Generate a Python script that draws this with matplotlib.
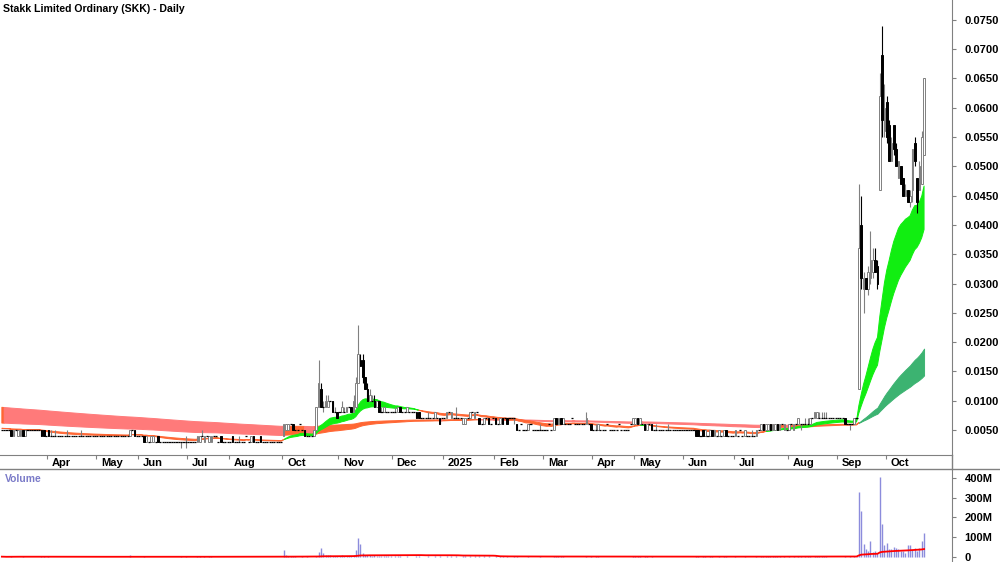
import numpy as np
import pandas as pd
import matplotlib.pyplot as plt
from matplotlib.lines import Line2D
from matplotlib import transforms

plt.rcParams['font.family'] = ['Liberation Sans', 'DejaVu Sans']

title = "Stakk Limited Ordinary (SKK) - Daily"

# trading bars per month, Mar 2024 .. Oct 2025 (no trading in Sep 2024)
month_labels = ['', 'Apr', 'May', 'Jun', 'Jul', 'Aug', 'Oct', 'Nov', 'Dec', '2025',
                'Feb', 'Mar', 'Apr', 'May', 'Jun', 'Jul', 'Aug', 'Sep', 'Oct']
month_bars = [20, 21, 18, 21, 18, 23, 24, 23, 22, 22, 21, 21, 18, 21, 22, 23, 21, 21, 17]

# prices in tenths of a cent (0.001)
opens = [
    5, 5, 5, 5, 5, 4, 5, 4, 4, 5, 4, 5, 5, 5, 5, 5, 5, 5, 5, 4,               # Mar 24
    5, 4, 4, 4, 4, 4, 4, 4, 4, 4, 4, 4, 4, 4, 4, 4, 4, 4, 4, 4, 4,            # Apr
    4, 4, 4, 4, 4, 4, 4, 4, 4, 4, 4, 4, 4, 4, 4, 5, 5, 4,                     # May
    4, 4, 4, 3, 3, 3, 3, 3, 4, 3, 3, 3, 3, 3, 3, 3, 3, 3, 3, 3, 3,            # Jun
    3, 3, 3, 3, 3, 3, 4, 3, 4, 3, 3, 4, 4, 3, 4, 3, 3, 3,                     # Jul
    3, 4, 3, 3, 3, 3, 3, 4, 3, 3, 4, 3, 3, 4, 3, 3, 3, 3, 3, 3, 3, 3, 3,      # Aug
    4, 5, 5, 6, 6, 5, 5, 6, 5, 5, 4, 4, 4, 4, 5, 9, 12, 9, 9, 9, 10, 10, 8, 8,  # Oct
    8, 8, 8, 8, 9, 9, 8, 9, 13, 17, 17, 14, 12, 10, 10, 10, 9, 10, 8, 8, 8, 8, 8,  # Nov
    8, 8, 8, 9, 8, 8, 8, 8, 8, 8, 8, 8, 7, 7, 7, 7, 7, 7, 7, 7, 7, 7,         # Dec
    7, 7, 8, 7, 7, 7, 7, 7, 6, 6, 7, 7, 8, 7, 8, 7, 6, 6, 7, 7, 6, 7,         # Jan 25
    7, 6, 6, 7, 7, 7, 7, 7, 7, 6, 5, 6, 5, 5, 5, 6, 5, 5, 5, 5, 5,            # Feb
    5, 5, 6, 5, 5, 7, 6, 7, 6, 6, 6, 6, 7, 6, 6, 6, 6, 6, 6, 6, 6,            # Mar
    5, 5, 5, 5, 5, 5, 6, 5, 5, 5, 5, 6, 5, 5, 5, 5, 6, 6,                     # Apr
    6, 7, 6, 6, 6, 5, 6, 6, 5, 5, 5, 5, 5, 5, 5, 5, 5, 5, 5, 5, 5,            # May
    5, 5, 5, 5, 5, 5, 5, 4, 5, 4, 4, 4, 5, 4, 4, 4, 4, 4, 5, 4, 4, 4,         # Jun
    4, 4, 5, 4, 4, 4, 4, 4, 4, 4, 5, 5, 6, 5, 5, 6, 5, 5, 6, 5, 6, 5, 5,      # Jul
    5, 6, 5, 6, 6, 6, 6, 6, 6, 6, 7, 7, 7, 7, 7, 7, 7, 7, 7, 7, 7,            # Aug
    7, 7, 7, 7, 6, 6, 6, 6, 7, 12, 40, 29, 31, 29, 31, 32, 34, 33, 46, 69, 56,  # Sep
    61, 57, 51, 57, 53, 48, 50, 48, 45, 46, 44, 46, 54, 48, 46, 47, 52,       # Oct
]
highs = [
    5, 5, 5, 5, 5, 5, 5, 5, 5, 5, 5, 5, 5, 5, 5, 5, 5, 5, 5, 4,
    5, 5, 4, 5, 4, 4, 4, 4, 5, 4, 4, 4, 4, 4, 5, 4, 4, 4, 4, 4, 4,
    4, 4, 4, 4, 4, 4, 4, 4, 4, 4, 4, 4, 4, 4, 5, 5, 5, 4,
    4, 4, 4, 4, 3, 4, 4, 3, 4, 3, 3, 3, 3, 3, 3, 3, 3, 3, 3, 3, 4,
    3, 3, 3, 3, 4, 4, 5, 4, 4, 4, 4, 4, 4, 3, 4, 3, 3, 3,
    3, 4, 3, 3, 4, 3, 3, 4, 3, 4, 4, 3, 3, 4, 3, 3, 3, 3, 3, 3, 3, 3, 3,
    6, 6, 6, 6, 6, 5, 5, 6, 5, 5, 4, 4, 4, 5, 9, 17, 13, 10, 11, 11, 10, 10, 9, 8,
    8, 10, 9, 9, 9, 9, 11, 14, 23, 18, 18, 14, 13, 12, 11, 11, 10, 10, 9, 9, 8, 8, 8,
    8, 9, 9, 9, 8, 8, 9, 8, 8, 8, 8, 8, 7, 7, 7, 8, 7, 7, 8, 7, 7, 7,
    7, 8, 8, 8, 7, 9, 7, 7, 7, 7, 7, 8, 8, 8, 8, 7, 6, 7, 7, 7, 6, 7,
    7, 6, 7, 7, 7, 7, 7, 7, 7, 6, 5, 6, 5, 5, 6, 6, 5, 5, 5, 6, 5,
    5, 5, 6, 5, 7, 7, 7, 7, 7, 6, 6, 6, 7, 6, 6, 6, 6, 6, 8, 6, 6,
    5, 6, 6, 5, 5, 5, 6, 5, 5, 5, 5, 6, 5, 5, 5, 5, 6, 7,
    7, 7, 7, 6, 6, 6, 6, 6, 5, 6, 5, 5, 5, 5, 6, 5, 5, 5, 5, 5, 5,
    5, 5, 5, 5, 5, 5, 5, 4, 5, 5, 4, 5, 5, 5, 4, 5, 4, 5, 5, 4, 4, 4,
    5, 4, 5, 4, 5, 4, 4, 5, 4, 5, 5, 6, 6, 6, 6, 6, 6, 6, 6, 6, 6, 6, 5,
    6, 6, 6, 6, 7, 6, 6, 7, 7, 7, 7, 8, 8, 8, 8, 8, 8, 7, 7, 7, 7,
    7, 7, 7, 7, 6, 6, 6, 7, 7, 47, 45, 32, 31, 33, 39, 36, 36, 34, 66, 74, 64,
    62, 58, 55, 57, 54, 51, 50, 48, 47, 46, 46, 53, 55, 48, 51, 56, 65,
]
lows = [
    5, 5, 5, 5, 4, 4, 5, 4, 4, 4, 4, 5, 5, 5, 5, 5, 5, 4, 4, 4,
    4, 4, 4, 4, 4, 4, 4, 4, 4, 4, 4, 4, 4, 4, 4, 4, 4, 4, 4, 4, 4,
    4, 4, 4, 4, 4, 4, 4, 4, 4, 4, 4, 4, 4, 4, 4, 5, 4, 4,
    4, 4, 3, 3, 3, 3, 3, 3, 3, 3, 3, 3, 3, 3, 3, 3, 3, 3, 2, 3, 2,
    3, 3, 3, 3, 3, 3, 4, 3, 4, 3, 3, 4, 4, 3, 3, 3, 3, 3,
    3, 3, 3, 3, 3, 3, 3, 4, 3, 3, 3, 3, 3, 3, 3, 3, 3, 3, 3, 3, 3, 3, 3,
    4, 5, 5, 6, 5, 5, 5, 6, 5, 4, 4, 4, 4, 4, 5, 9, 9, 8, 9, 9, 10, 8, 8, 7,
    8, 8, 8, 8, 9, 8, 8, 9, 13, 16, 13, 12, 10, 10, 10, 9, 9, 8, 8, 8, 8, 8, 8,
    8, 8, 8, 8, 8, 8, 8, 8, 8, 8, 7, 7, 7, 7, 7, 7, 7, 7, 7, 7, 6, 7,
    7, 7, 8, 7, 7, 7, 7, 7, 6, 6, 7, 7, 8, 7, 8, 6, 6, 6, 7, 6, 6, 7,
    6, 6, 6, 6, 7, 6, 7, 7, 6, 5, 5, 6, 5, 5, 5, 6, 5, 5, 5, 5, 5,
    5, 5, 6, 5, 5, 6, 6, 6, 6, 6, 6, 6, 7, 6, 6, 6, 6, 6, 6, 6, 5,
    5, 5, 5, 5, 5, 5, 6, 5, 5, 5, 5, 6, 5, 5, 5, 5, 6, 6,
    6, 6, 6, 6, 5, 5, 6, 5, 5, 5, 5, 5, 5, 5, 5, 5, 5, 5, 5, 5, 5,
    5, 5, 5, 5, 5, 4, 4, 4, 4, 4, 4, 4, 4, 4, 4, 4, 4, 4, 4, 4, 4, 4,
    4, 4, 5, 4, 4, 4, 4, 4, 4, 4, 5, 5, 5, 5, 5, 5, 5, 5, 5, 5, 6, 5, 5,
    5, 6, 5, 6, 6, 5, 6, 6, 6, 6, 7, 7, 7, 7, 7, 7, 7, 7, 7, 7, 7,
    7, 7, 7, 6, 6, 5, 6, 6, 7, 12, 29, 25, 29, 28, 30, 31, 32, 29, 46, 55, 55,
    54, 51, 51, 52, 50, 48, 47, 45, 45, 44, 43, 44, 50, 42, 46, 47, 52,
]
closes = [
    5, 5, 5, 5, 4, 5, 5, 5, 5, 4, 5, 5, 5, 5, 5, 5, 5, 4, 4, 4,
    4, 4, 4, 4, 4, 4, 4, 4, 4, 4, 4, 4, 4, 4, 4, 4, 4, 4, 4, 4, 4,
    4, 4, 4, 4, 4, 4, 4, 4, 4, 4, 4, 4, 4, 4, 5, 5, 4, 4,
    4, 4, 3, 4, 3, 4, 4, 3, 3, 3, 3, 3, 3, 3, 3, 3, 3, 3, 3, 3, 3,
    3, 3, 3, 3, 4, 4, 4, 4, 4, 4, 4, 4, 4, 3, 3, 3, 3, 3,
    3, 3, 3, 3, 3, 3, 3, 4, 3, 4, 3, 3, 3, 3, 3, 3, 3, 3, 3, 3, 3, 3, 3,
    6, 6, 6, 6, 5, 5, 5, 6, 5, 4, 4, 4, 4, 5, 9, 13, 9, 9, 10, 10, 10, 8, 8, 7,
    8, 9, 8, 9, 9, 8, 10, 13, 18, 16, 14, 12, 10, 11, 10, 9, 10, 8, 8, 9, 8, 8, 8,
    8, 8, 9, 8, 8, 8, 9, 8, 8, 8, 7, 7, 7, 7, 7, 7, 7, 7, 8, 7, 6, 7,
    7, 8, 8, 8, 7, 7, 7, 7, 7, 7, 7, 8, 8, 8, 8, 6, 6, 7, 7, 6, 6, 7,
    6, 6, 7, 6, 7, 6, 7, 7, 7, 5, 5, 6, 5, 5, 6, 6, 5, 5, 5, 5, 5,
    5, 5, 6, 5, 7, 6, 7, 6, 7, 6, 6, 6, 7, 6, 6, 6, 6, 6, 7, 6, 5,
    5, 5, 6, 5, 5, 5, 6, 5, 5, 5, 5, 6, 5, 5, 5, 5, 6, 7,
    7, 6, 7, 6, 5, 6, 6, 5, 5, 5, 5, 5, 5, 5, 5, 5, 5, 5, 5, 5, 5,
    5, 5, 5, 5, 5, 4, 4, 4, 4, 5, 4, 5, 4, 5, 4, 5, 4, 5, 4, 4, 4, 4,
    5, 4, 5, 4, 5, 4, 4, 4, 4, 5, 5, 6, 5, 6, 6, 5, 6, 6, 5, 6, 6, 6, 5,
    6, 6, 6, 6, 7, 6, 6, 6, 6, 7, 7, 8, 8, 7, 7, 7, 7, 7, 7, 7, 7,
    7, 7, 7, 6, 6, 6, 6, 7, 7, 36, 31, 31, 29, 32, 34, 34, 32, 30, 62, 58, 60,
    55, 51, 54, 53, 50, 51, 47, 45, 46, 44, 45, 53, 51, 44, 50, 55, 65,
]
# volume in millions of shares
volumes = [
    2, 1, 1, 2, 3, 2, 1, 2, 2, 3, 2, 1, 1, 1, 1, 1, 1, 3, 3, 1,
    3, 2, 1, 2, 1, 1, 1, 1, 2, 1, 1, 1, 1, 1, 2, 1, 1, 1, 1, 1, 1,
    1, 1, 1, 1, 1, 1, 1, 1, 1, 1, 1, 1, 1, 1, 8, 2, 2, 1,
    1, 1, 3, 2, 1, 2, 2, 1, 2, 1, 1, 1, 1, 1, 1, 1, 1, 1, 5, 1, 3,
    1, 1, 1, 1, 3, 3, 2, 3, 1, 3, 3, 1, 1, 1, 2, 1, 1, 1,
    1, 2, 1, 1, 2, 1, 1, 1, 1, 2, 2, 1, 1, 2, 1, 1, 1, 1, 1, 1, 1, 1, 1,
    35, 8, 6, 3, 4, 3, 2, 2, 3, 2, 4, 2, 1, 1, 5, 25, 45, 20, 10, 8, 8, 4, 6, 4,
    3, 10, 5, 6, 3, 5, 12, 35, 96, 65, 20, 12, 10, 8, 6, 8, 5, 7, 4, 5, 3, 3, 3,
    2, 4, 5, 4, 2, 2, 5, 2, 2, 2, 5, 4, 2, 2, 2, 3, 2, 2, 4, 2, 4, 2,
    2, 4, 2, 4, 2, 6, 2, 2, 4, 4, 2, 4, 2, 4, 2, 5, 2, 4, 2, 4, 2, 2,
    4, 2, 4, 4, 2, 4, 2, 2, 3, 4, 2, 2, 2, 2, 3, 2, 2, 2, 2, 3, 2,
    2, 2, 2, 2, 6, 5, 4, 5, 4, 2, 2, 2, 2, 2, 2, 2, 2, 2, 5, 2, 3,
    2, 3, 3, 2, 2, 2, 2, 2, 2, 2, 2, 2, 2, 2, 2, 2, 2, 4,
    5, 4, 4, 2, 3, 3, 2, 3, 2, 2, 1, 1, 1, 1, 2, 1, 1, 1, 1, 1, 1,
    1, 1, 1, 1, 1, 4, 3, 2, 3, 3, 2, 3, 3, 2, 2, 3, 2, 3, 3, 2, 2, 2,
    3, 1, 2, 1, 3, 1, 1, 2, 1, 3, 2, 4, 4, 3, 4, 4, 4, 3, 4, 3, 2, 3, 2,
    4, 2, 4, 2, 5, 3, 2, 3, 3, 4, 2, 5, 5, 3, 3, 3, 3, 2, 2, 2, 2,
    2, 2, 2, 5, 2, 3, 2, 4, 3, 330, 233, 65, 40, 30, 80, 25, 30, 20, 405, 167, 60,
    70, 40, 40, 50, 47, 40, 30, 30, 20, 60, 60, 38, 45, 30, 45, 80, 122,
]

short_spans = (22, 38)
long_spans = (150, 250)
short_seed = (0.0053, 0.0053)
long_seed = (0.0062, 0.0089)

scale = 0.001
o = np.array(opens) * scale
h = np.array(highs) * scale
l = np.array(lows) * scale
c = np.array(closes) * scale
vol = np.array(volumes, dtype=float)
n = len(c)
x = np.arange(n)


def ema(values, span, seed):
    a = 2.0 / (span + 1)
    out = np.empty(len(values))
    e = seed
    for i, v in enumerate(values):
        e = e + a * (v - e)
        out[i] = e
    return out


sf = ema(c, short_spans[0], short_seed[0])
ss = ema(c, short_spans[1], short_seed[1])
lf = ema(c, long_spans[0], long_seed[0])
ls = ema(c, long_spans[1], long_seed[1])

PINK, ORANGE, LIME, DKGREEN = '#ff7a7a', '#ff6633', '#11ee11', '#3cb371'

short_col = np.where(sf >= ss, LIME, ORANGE)
slope = np.diff(lf, prepend=lf[0]) / lf
strong = (slope > 0.005) & (lf >= ls * 0.97)
long_col = np.where(strong, DKGREEN, np.where(slope >= 0, ORANGE, PINK))


def fill_band(ax, a, b, cols):
    lo = np.minimum(a, b)
    hi = np.maximum(a, b)
    for col in np.unique(cols):
        m = cols == col
        m2 = m.copy()
        m2[1:] |= m[:-1]
        ax.fill_between(x, lo, hi, where=m2, color=col, lw=0.7, edgecolor=col)


fig = plt.figure(figsize=(10, 5.62), dpi=100)
H = 562.0
ax = fig.add_axes([0, 1 - 455 / H, 0.952, 455 / H])
axv = fig.add_axes([0, 0, 0.952, (H - 469) / H])

fill_band(ax, lf, ls, long_col)
fill_band(ax, sf, ss, short_col)

up = c >= o
flat = o == c
ax.vlines(x[up], l[up], h[up], color='#808080', lw=0.8, zorder=3)
ax.vlines(x[~up], l[~up], h[~up], color='black', lw=0.8, zorder=3)
body = ~flat
ax.bar(x[body & up], (c - o)[body & up], bottom=o[body & up], width=0.7,
       color='white', edgecolor='#808080', lw=0.7, zorder=4)
ax.bar(x[body & ~up], (o - c)[body & ~up], bottom=c[body & ~up], width=0.7,
       color='black', edgecolor='black', lw=0.7, zorder=4)
ax.hlines(c[flat], x[flat] - 0.45, x[flat] + 0.45, color='black', lw=0.9, zorder=4)

ax.set_xlim(-0.8, 408)
ax.set_ylim(0.00073, 0.0784)
ticks = np.arange(0.005, 0.0751, 0.005)
ax.yaxis.tick_right()
ax.set_yticks(ticks)
ax.set_yticklabels([f'{t:.4f}' for t in ticks], fontweight='bold')
ax.tick_params(axis='y', direction='out', length=3, color='#808080', labelsize=8, pad=6)

starts = np.cumsum([0] + month_bars[:-1])
ax.set_xticks(starts[1:] - 0.5)
ax.tick_params(axis='x', direction='out', length=3, color='#808080', labelbottom=False)
trans = transforms.blended_transform_factory(ax.transData, fig.transFigure)
for s, lab in zip(starts[1:], month_labels[1:]):
    ax.text(s + 1.5, 1 - 463 / H, lab, transform=trans, ha='left', va='center',
            fontsize=8, fontweight='bold', clip_on=False)

for a in (ax, axv):
    a.spines['top'].set_visible(False)
    a.spines['left'].set_visible(False)
    a.spines['right'].set_color('#808080')
    a.set_facecolor('none')
ax.spines['bottom'].set_color('#808080')
axv.spines['bottom'].set_visible(False)

# volume
axv.vlines(x, 0, vol, color='#8c8cdc', lw=1.0)
vma = pd.Series(vol).rolling(60, min_periods=1).mean()
axv.plot(x, vma, color='red', lw=1.3)
axv.set_xlim(-0.8, 408)
axv.set_ylim(-25, 445)
axv.set_xticks([])
axv.yaxis.tick_right()
axv.set_yticks([0, 100, 200, 300, 400])
axv.set_yticklabels(['0', '100M', '200M', '300M', '400M'], fontweight='bold')
axv.tick_params(axis='y', direction='out', length=3, color='#808080', labelsize=8, pad=6)

fig.add_artist(Line2D([0, 1], [1 - 469 / H, 1 - 469 / H], color='#808080', lw=1))
fig.add_artist(Line2D([0.952, 0.952], [1 - 469 / H, 1 - 455 / H], color='#808080', lw=1))

fig.text(3 / 1000, 1 - 9 / H, title, fontsize=7.6, fontweight='bold', va='center')
fig.text(5 / 1000, 1 - 479 / H, 'Volume', fontsize=7.4, fontweight='bold',
         color='#7a7ac8', va='center')

fig.savefig('out.png', dpi=100)
